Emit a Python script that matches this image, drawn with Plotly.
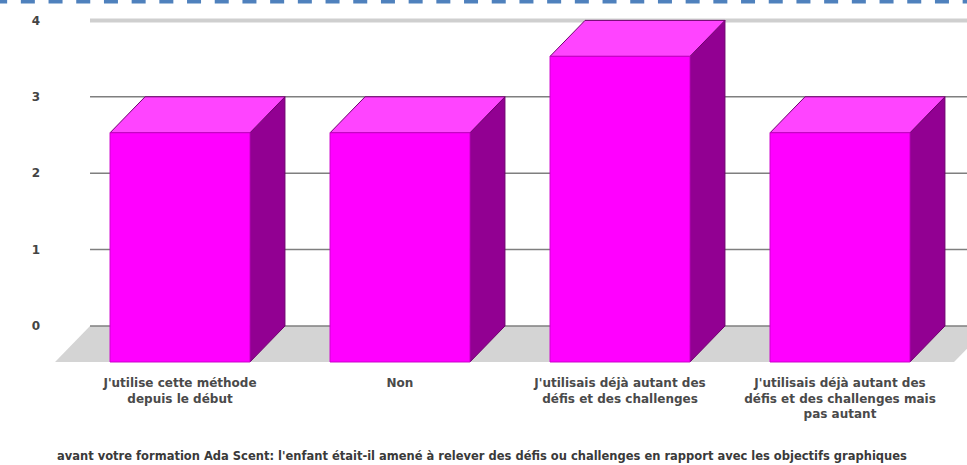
import plotly.graph_objects as go

# Survey answers and counts
categories = [
    "J'utilise cette méthode<br>depuis le début",
    "Non",
    "J'utilisais déjà autant des<br>défis et des challenges",
    "J'utilisais déjà autant des<br>défis et des challenges mais<br>pas autant",
]
counts = [3, 3, 4, 3]
y_ticks = [0, 1, 2, 3, 4]
question = ("avant votre formation Ada Scent: l'enfant était-il amené à relever des défis "
            "ou challenges en rapport avec les objectifs graphiques")

# Pseudo-3D geometry (in axis units)
HALF_W = 0.318      # half width of a bar's front face
DX = 0.159          # depth shift along x
DY = 0.471          # depth shift along y
WALL_X = -0.409     # left edge of the back wall
X_RANGE = [-0.5909, 3.5773]
Y_RANGE = [-0.602, 4.267]

FRONT = "#ff00ff"
TOP = "#ff44ff"
SIDE = "#920092"
EDGE = "#6e006e"

fig = go.Figure()


def poly(xs, ys, fill, line_color=None, width=0):
    fig.add_trace(go.Scatter(
        x=xs + [xs[0]], y=ys + [ys[0]], mode="lines", fill="toself",
        fillcolor=fill, line=dict(color=line_color or fill, width=width),
        hoverinfo="skip", showlegend=False,
    ))


# floor
far_right = X_RANGE[1] + 0.1
poly([WALL_X, far_right, far_right - DX, WALL_X - DX],
     [0, 0, -DY, -DY], "#d4d4d4")

# back-wall gridlines
for v in y_ticks:
    if v == y_ticks[-1]:
        color, w = "#cfcfcf", 4
    else:
        color, w = "#7f7f7f", 1.5
    fig.add_trace(go.Scatter(
        x=[WALL_X, X_RANGE[1]], y=[v, v], mode="lines",
        line=dict(color=color, width=w), hoverinfo="skip", showlegend=False,
    ))

# bars: side, top, front faces
for i, val in enumerate(counts):
    xl, xr = i - HALF_W, i + HALF_W
    poly([xr, xr + DX, xr + DX, xr], [-DY, 0, val, val - DY], SIDE, EDGE, 1)
    poly([xl, xr, xr + DX, xl + DX], [val - DY, val - DY, val, val], TOP, EDGE, 1)
    poly([xl, xr, xr, xl], [-DY, -DY, val - DY, val - DY], FRONT, "#cc00cc", 1)

# dashed rule along the top edge
fig.add_shape(type="line", xref="paper", yref="paper",
              x0=-0.062, x1=1.01, y0=0.996, y1=0.996,
              line=dict(color="#4f81bd", width=4, dash="14px,13.7px"))

fig.add_annotation(
    text=question, xref="paper", yref="paper", x=0.005, y=-0.25,
    xanchor="left", yanchor="bottom", showarrow=False,
    font=dict(family="DejaVu Sans", size=11.5, color="#3a3a3a", weight="bold"),
)

fig.update_layout(
    width=967, height=465,
    margin=dict(l=50, r=0, t=0, b=93),
    paper_bgcolor="white", plot_bgcolor="white",
    xaxis=dict(
        range=X_RANGE, tickmode="array", tickvals=list(range(len(categories))),
        ticktext=categories, showgrid=False, zeroline=False, showline=False,
        ticks="", ticklabelstandoff=2, tickangle=0,
        tickfont=dict(family="DejaVu Sans", size=12, color="#4a4a4a", weight="bold"),
    ),
    yaxis=dict(
        range=Y_RANGE, tickmode="array", tickvals=y_ticks,
        ticktext=[f"<b>{t}</b>" for t in y_ticks],
        showgrid=False, zeroline=False, showline=False, ticks="",
        ticklabelstandoff=9,
        tickfont=dict(family="DejaVu Sans", size=12, color="#444444"),
    ),
)

fig.write_html("out.html")
